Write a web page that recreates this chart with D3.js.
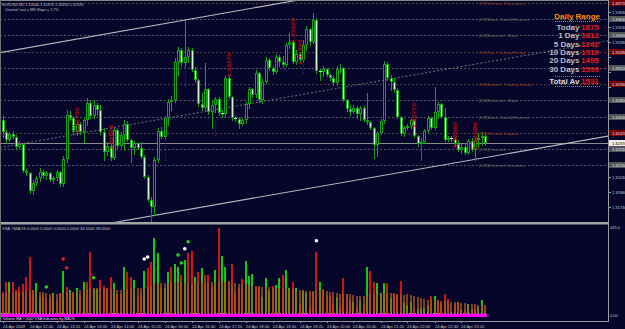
<!DOCTYPE html>
<html><head><meta charset="utf-8">
<script src="https://cdn.jsdelivr.net/npm/d3@7/dist/d3.min.js"></script>
<style>
html,body{margin:0;padding:0;background:#06062b;overflow:hidden}
svg{display:block}
text{font-family:"Liberation Sans",Arial,sans-serif}
</style></head><body>
<svg id="chart" width="625" height="329"></svg>
<script>
// ---------------- DATA ----------------
const headerText = "EURUSD,M5  1.32440 1.32470 1.32350 1.32370";
const channelText = "Channel size = 889  Slope = 2.7%";

const open = [1.3260,1.3248,1.3240,1.3246,1.3243,1.3233,1.3236,1.3209,1.3207,1.3189,
1.3197,1.3202,1.3208,1.3204,1.3207,1.3200,1.3202,1.3208,1.3196,1.3221,
1.3265,1.3262,1.3248,1.3256,1.3248,1.3260,1.3277,1.3264,1.3275,1.3270,
1.3248,1.3228,1.3234,1.3222,1.3250,1.3234,1.3245,1.3256,1.3240,1.3232,
1.3237,1.3232,1.3223,1.3203,1.3180,1.3173,1.3220,1.3249,1.3243,1.3262,
1.3278,1.3280,1.3318,1.3330,1.3317,1.3323,1.3330,1.3310,1.3300,1.3276,
1.3272,1.3291,1.3268,1.3275,1.3281,1.3267,1.3266,1.3302,1.3283,1.3262,
1.3261,1.3256,1.3260,1.3276,1.3291,1.3285,1.3307,1.3280,1.3298,1.3320,
1.3312,1.3308,1.3323,1.3318,1.3315,1.3335,1.3338,1.3318,1.3326,1.3320,
1.3335,1.3351,1.3338,1.3360,1.3309,1.3308,1.3311,1.3305,1.3302,1.3297,
1.3311,1.3312,1.3280,1.3271,1.3268,1.3272,1.3266,1.3272,1.3260,1.3258,
1.3252,1.3235,1.3247,1.3259,1.3316,1.3302,1.3298,1.3290,1.3263,1.3246,
1.3252,1.3254,1.3260,1.3244,1.3236,1.3238,1.3249,1.3262,1.3252,1.3268,
1.3276,1.3263,1.3240,1.3242,1.3241,1.3236,1.3230,1.3233,1.3227,1.3239,
1.3230,1.3240,1.3242,1.3244];

const high = [1.3265,1.3250,1.3248,1.3249,1.3245,1.3239,1.3237,1.3211,1.3208,1.3200,
1.3204,1.3212,1.3210,1.3209,1.3208,1.3204,1.3210,1.3209,1.3224,1.3270,
1.3269,1.3264,1.3258,1.3258,1.3262,1.3282,1.3280,1.3280,1.3277,1.3275,
1.3252,1.3238,1.3237,1.3252,1.3252,1.3248,1.3260,1.3259,1.3241,1.3239,
1.3238,1.3238,1.3225,1.3205,1.3183,1.3223,1.3252,1.3253,1.3264,1.3281,
1.3284,1.3322,1.3333,1.3332,1.3360,1.3333,1.3332,1.3313,1.3301,1.3287,
1.3317,1.3292,1.3280,1.3283,1.3283,1.3270,1.3304,1.3305,1.3284,1.3264,
1.3263,1.3262,1.3278,1.3293,1.3292,1.3310,1.3308,1.3301,1.3323,1.3322,
1.3314,1.3326,1.3325,1.3324,1.3337,1.3347,1.3340,1.3330,1.3327,1.3340,
1.3354,1.3352,1.3367,1.3362,1.3311,1.3314,1.3312,1.3306,1.3304,1.3314,
1.3316,1.3313,1.3281,1.3275,1.3275,1.3274,1.3274,1.3274,1.3287,1.3259,
1.3253,1.3249,1.3261,1.3319,1.3318,1.3305,1.3302,1.3292,1.3264,1.3254,
1.3256,1.3262,1.3261,1.3245,1.3242,1.3251,1.3264,1.3263,1.3293,1.3278,
1.3277,1.3272,1.3244,1.3244,1.3243,1.3240,1.3236,1.3237,1.3241,1.3242,
1.3243,1.3247,1.3248,1.3247];

const low = [1.3243,1.3237,1.3239,1.3242,1.3231,1.3232,1.3208,1.3205,1.3187,1.3186,
1.3195,1.3199,1.3202,1.3201,1.3199,1.3197,1.3200,1.3194,1.3194,1.3218,
1.3260,1.3246,1.3245,1.3246,1.3238,1.3255,1.3262,1.3262,1.3266,1.3246,
1.3220,1.3225,1.3220,1.3221,1.3232,1.3233,1.3230,1.3239,1.3218,1.3226,
1.3231,1.3222,1.3202,1.3179,1.3159,1.3165,1.3218,1.3242,1.3242,1.3255,
1.3270,1.3278,1.3305,1.3315,1.3312,1.3318,1.3309,1.3298,1.3274,1.3270,
1.3270,1.3266,1.3252,1.3268,1.3265,1.3263,1.3264,1.3282,1.3260,1.3259,
1.3252,1.3255,1.3257,1.3272,1.3283,1.3283,1.3278,1.3277,1.3297,1.3310,
1.3306,1.3307,1.3314,1.3313,1.3314,1.3332,1.3317,1.3316,1.3318,1.3319,
1.3330,1.3335,1.3337,1.3307,1.3300,1.3304,1.3304,1.3300,1.3295,1.3295,
1.3307,1.3279,1.3269,1.3265,1.3267,1.3262,1.3260,1.3259,1.3256,1.3251,
1.3222,1.3224,1.3246,1.3257,1.3300,1.3290,1.3288,1.3262,1.3245,1.3244,
1.3251,1.3252,1.3243,1.3234,1.3220,1.3237,1.3247,1.3251,1.3251,1.3262,
1.3262,1.3239,1.3239,1.3239,1.3234,1.3229,1.3227,1.3226,1.3226,1.3229,
1.3220,1.3233,1.3235,1.3235];

const close = [1.3248,1.3240,1.3246,1.3243,1.3233,1.3236,1.3209,1.3207,1.3189,1.3197,
1.3202,1.3208,1.3204,1.3207,1.3200,1.3202,1.3208,1.3196,1.3221,1.3265,
1.3262,1.3248,1.3256,1.3248,1.3260,1.3277,1.3264,1.3275,1.3270,1.3248,
1.3228,1.3234,1.3222,1.3250,1.3234,1.3245,1.3256,1.3240,1.3232,1.3237,
1.3232,1.3223,1.3203,1.3180,1.3173,1.3220,1.3249,1.3243,1.3262,1.3278,
1.3280,1.3318,1.3330,1.3317,1.3323,1.3330,1.3310,1.3300,1.3276,1.3272,
1.3291,1.3268,1.3275,1.3281,1.3267,1.3266,1.3302,1.3283,1.3262,1.3261,
1.3256,1.3260,1.3276,1.3291,1.3285,1.3307,1.3280,1.3298,1.3320,1.3312,
1.3308,1.3323,1.3318,1.3315,1.3335,1.3338,1.3318,1.3326,1.3320,1.3335,
1.3351,1.3338,1.3360,1.3309,1.3308,1.3311,1.3305,1.3302,1.3297,1.3311,
1.3312,1.3280,1.3271,1.3268,1.3272,1.3266,1.3272,1.3260,1.3258,1.3252,
1.3235,1.3247,1.3259,1.3316,1.3302,1.3298,1.3290,1.3263,1.3246,1.3252,
1.3254,1.3260,1.3244,1.3236,1.3238,1.3249,1.3262,1.3252,1.3268,1.3276,
1.3263,1.3240,1.3242,1.3241,1.3236,1.3230,1.3233,1.3227,1.3239,1.3230,
1.3240,1.3242,1.3244,1.3237];

const volume = [122,170,170,172,130,147,160,197,297,130,
164,97,105,89,89,114,80,114,227,147,
130,114,139,105,172,172,322,134,135,180,
150,139,197,164,110,110,245,222,194,180,
97,110,227,239,272,389,314,139,142,222,
247,259,247,205,280,314,325,197,222,239,
205,205,147,230,439,300,244,175,259,114,
142,185,275,200,209,147,147,97,189,125,
152,155,189,205,230,139,169,142,59,125,
117,47,122,319,172,135,105,102,64,94,
47,189,110,80,69,47,75,55,245,227,
169,164,117,164,164,89,114,105,177,64,
55,72,35,35,42,39,52,100,102,80,
64,109,85,19,55,69,30,30,59,35,
35,47,80,39];
// g = up volume, r = down volume
const volumeDir = ("rrgrrrrrrr"+"ggrrrgrrgr"+"grgrgrrggr"+"rrrgrrgrrg"+"rrgrrggrgg"+
  "rggrgrrgrg"+"rrrgrggrrr"+"rrgggrrggg"+"rggrggrgrg"+"grrrgrrrrg"+
  "rrrrgrgrgr"+"rgggrgrrrg"+"ggrggggrgr"+"rrrgrrgrgr"+"rggr").split("");
const volumeAvg = [110,115,118,120,118,120,122,125,130,128,125,122,118,115,112,110,108,110,115,118,
120,122,125,128,130,135,140,142,140,138,138,136,135,135,132,130,132,135,138,140,
140,138,140,145,150,158,165,166,165,166,168,170,170,168,166,165,160,165,168,170,
170,170,168,170,175,175,172,170,168,165,162,160,158,155,152,150,148,146,145,144,
142,140,138,136,138,136,134,132,130,128,126,124,125,130,130,128,126,122,118,115,
112,112,110,108,105,102,100,100,104,108,110,112,114,116,116,114,112,110,108,104,
110,105,100,95,90,85,82,80,80,78,76,75,74,72,70,68,66,64,62,60,58,57,56,55];
const vsaBase = 3;
const vsaDots = [
  {bar:13, v:145, kind:"g"}, {bar:18, v:285, kind:"r"}, {bar:19, v:241, kind:"r"},
  {bar:27, v:191, kind:"g"}, {bar:42, v:285, kind:"w"}, {bar:43, v:295, kind:"w"},
  {bar:52, v:305, kind:"g"}, {bar:53, v:265, kind:"g"}, {bar:54, v:336, kind:"w"},
  {bar:55, v:371, kind:"g"}, {bar:93, v:376, kind:"w"}];
const vsaTitle = "VSA ©MAOS 0.0000 0.0000 0.0000 0.0000 34.0000 38.0000";
const vsaFooter = "Volume MA © 2007 VSA Indicators by MAOS";
const volAxisLabels = [445, 0];

const mmPrices = [1.3377,1.3361,1.3345,1.3328,1.3312,1.3296,1.3280,1.3263,1.3247,1.3231,1.3215];
const mmNames = ["[8/8]Ultimate Resistance","[7/8]Weak, Stall & Reverse","[6/8]Reversal - Major",
  "[5/8]Top - Trading Range","","[3/8]Bottom - Trading Range","[2/8]Reversal - Major",
  "[1/8]Weak, Stall & Reverse","[0/8]Ultimate Support","[-1/8]Oversold","[-2/8]Extreme Overshoot"];
const mmKind = ["r","g","g","r","g","r","g","g","r","g","g"];

const channelUpper = [[0,1.33278],[80,1.33754]];
const channelMid   = [[0,1.3233],[143,1.33176]];
const channelLower = [[0,1.3138],[143,1.32224]];
const bidPrice = 1.3237;

const priceTicks = [1.3368,1.3353,1.3338,1.3323,1.3308,1.3293,1.3278,1.3263,1.3248,1.3233,1.3218,1.3203,1.3188,1.3173];

const timeBars = [0,8,16,24,32,40,48,56,64,72,80,88,96,104,112,120,128,136];
const timeLabels = ["24 Apr 2009","24 Apr 12:40","24 Apr 13:20","24 Apr 14:00","24 Apr 14:40","24 Apr 15:20",
  "24 Apr 16:00","24 Apr 16:40","24 Apr 17:20","24 Apr 18:00","24 Apr 18:40","24 Apr 19:20","24 Apr 20:00",
  "24 Apr 20:40","24 Apr 21:20","24 Apr 22:00","24 Apr 22:40","24 Apr 23:20"];

const fractalLabels = [
  {bar:22, top:1.3273, bottom:1.3247}, {bar:32, top:1.3255, bottom:1.3230},
  {bar:67, top:1.3327, bottom:1.3303}, {bar:86, top:1.3362, bottom:1.3337},
  {bar:88, top:1.3340, bottom:1.3315}, {bar:122, top:1.3277, bottom:1.3252},
  {bar:134, top:1.3258, bottom:1.3232}, {bar:140, top:1.3258, bottom:1.3230}];
const fractalDots = [
  {bar:21, top:1.3255, bottom:1.3235}, {bar:44, top:1.3167, bottom:1.3155},
  {bar:48, top:1.3240, bottom:1.3218}, {bar:54, top:1.3312, bottom:1.3292},
  {bar:63, top:1.3260, bottom:1.3242}, {bar:89, top:1.3323, bottom:1.3307},
  {bar:124, top:1.3235, bottom:1.3218}];

const rangeTitle = "Daily Range";
const rangeNames = ["Today","1 Day","5 Days","10 Days","20 Days","30 Days"];
const rangeValues = [1875,1812,1242,1510,1495,1599];
const rangeTotalName = "Total Av";
const rangeTotal = 1531;

// ---------------- DRAWING ----------------
const BG = "#06062b";
const C = {wick:"#18a018", bear:"#c8f8c8", grid:"#55556a", mmR:"#8a3a1c", mmG:"#6c6c52",
  boxR:"#7a0000", boxG:"#545454", axis:"#9a9a9a", txt:"#c4c4c4",
  volUp:"#14c814", volDn:"#d01414", volAvg:"#a85a1c", mag:"#ff00ff"};

const svg = d3.select("#chart");
svg.append("rect").attr("width",625).attr("height",329).attr("fill",BG);
const defs = svg.append("defs");
defs.append("clipPath").attr("id","cm").append("rect").attr("x",0).attr("y",0).attr("width",608).attr("height",222);
defs.append("clipPath").attr("id","cv").append("rect").attr("x",0).attr("y",225).attr("width",608).attr("height",95);

const x = d3.scaleLinear().domain([0,180]).range([2.5,610]);
const y = d3.scaleLinear().domain([1.3158,1.3380]).range([222,0]);
const yv = d3.scaleLinear().domain([0,445]).range([316,227]);

const main = svg.append("g").attr("clip-path","url(#cm)");

// Murrey math levels
mmPrices.forEach((p,k)=>{
  const yy = Math.round(y(p))+0.5;
  main.append("line").attr("x1",0).attr("x2",608).attr("y1",yy).attr("y2",yy)
    .attr("stroke", mmKind[k]==="r" ? "#5a4040" : C.grid).attr("stroke-width",1).attr("stroke-dasharray","2,2");
});

// bid line
main.append("line").attr("x1",0).attr("x2",608).attr("y1",Math.round(y(bidPrice))+0.5).attr("y2",Math.round(y(bidPrice))+0.5)
  .attr("stroke","#8c8c8c").attr("stroke-width",1);

// channel
function ray(pts, dash, col){
  const s = d3.scaleLinear().domain([pts[0][0],pts[1][0]]).range([pts[0][1],pts[1][1]]);
  const ln = main.append("line").attr("x1",x(-2)).attr("y1",y(s(-2))).attr("x2",x(180)).attr("y2",y(s(180)))
    .attr("stroke",col).attr("stroke-width",1.1);
  if(dash) ln.attr("stroke-dasharray",dash);
}
ray(channelMid,"2,2","#6a6a6a");
ray(channelUpper,null,"#b8b8b8");
ray(channelLower,null,"#b8b8b8");

// candles
const cg = main.append("g").attr("shape-rendering","crispEdges");
close.forEach((c,i)=>{
  const o = open[i], cx = Math.round(x(i));
  cg.append("line").attr("x1",cx+0.5).attr("x2",cx+0.5).attr("y1",Math.round(y(high[i]))).attr("y2",Math.round(y(low[i]))+1)
    .attr("stroke",C.wick).attr("stroke-width",1);
  const t = Math.round(y(Math.max(o,c))), b = Math.round(y(Math.min(o,c)));
  if (b - t >= 2) {
    cg.append("rect").attr("x",cx-0.5).attr("y",t+0.5).attr("width",2).attr("height",b-t-1)
      .attr("fill", c<o ? C.bear : BG).attr("stroke",C.wick).attr("stroke-width",1);
  } else {
    cg.append("line").attr("x1",cx-1).attr("x2",cx+2).attr("y1",t+0.5).attr("y2",t+0.5)
      .attr("stroke", c<o ? C.bear : C.wick).attr("stroke-width",1);
  }
});

// fractal markers
fractalDots.forEach(d=>{
  main.append("line").attr("x1",Math.round(x(d.bar))+0.5).attr("x2",Math.round(x(d.bar))+0.5)
    .attr("y1",y(d.top)).attr("y2",y(d.bottom)).attr("stroke","#2020ee").attr("stroke-width",1.2).attr("stroke-dasharray","1,1.5");
});
fractalLabels.forEach(d=>{
  const px = Math.round(x(d.bar))+2, yb = y(d.bottom), h = y(d.bottom)-y(d.top);
  main.append("text").attr("transform",`translate(${px},${yb}) rotate(-90)`)
    .attr("font-size",4.6).attr("font-weight","bold").attr("fill","#b80a0a")
    .attr("textLength",h).attr("lengthAdjust","spacingAndGlyphs").text(d.top.toFixed(5));
});

// MM labels
mmPrices.forEach((p,k)=>{
  if(!mmNames[k]) return;
  main.append("text").attr("x",479).attr("y",y(p)+1.6).attr("font-size",4.2)
    .attr("fill", mmKind[k]==="r" ? C.mmR : C.mmG).text(mmNames[k]);
});

// header texts
svg.append("text").attr("x",2).attr("y",6).attr("font-size",3.8).attr("fill",C.txt).text(headerText);
svg.append("text").attr("x",5).attr("y",10.5).attr("font-size",3.6).attr("fill",C.txt).text(channelText);

// frame lines
svg.append("line").attr("x1",0).attr("x2",608).attr("y1",0.5).attr("y2",0.5).attr("stroke","#8a8a8a");
svg.append("rect").attr("x",0).attr("y",222).attr("width",609).attr("height",2.5).attr("fill","#a4a4a4");
svg.append("line").attr("x1",0.5).attr("x2",0.5).attr("y1",0).attr("y2",321).attr("stroke","#707070");
svg.append("line").attr("x1",608.5).attr("x2",608.5).attr("y1",0).attr("y2",322).attr("stroke",C.axis);
svg.append("line").attr("x1",0).attr("x2",609).attr("y1",321.5).attr("y2",321.5).attr("stroke",C.axis);

// price axis (ticks that would sit under a level box are skipped)
const ax = svg.append("g");
const boxYs = mmPrices.map(p=>y(p)).concat([y(bidPrice)]);
priceTicks.forEach(p=>{
  const yy = Math.round(y(p))+0.5;
  ax.append("line").attr("x1",608).attr("x2",611).attr("y1",yy).attr("y2",yy).attr("stroke",C.axis);
  if (boxYs.some(b=>Math.abs(b-yy)<6.5)) return;
  ax.append("text").attr("x",612).attr("y",yy+1.5).attr("font-size",4).attr("fill",C.txt).text(p.toFixed(5));
});
mmPrices.forEach((p,k)=>{
  const yy = y(p);
  ax.append("rect").attr("x",609).attr("y",yy-3).attr("width",16).attr("height",6)
    .attr("fill", mmKind[k]==="r" ? C.boxR : C.boxG);
  ax.append("text").attr("x",612).attr("y",yy+1.5).attr("font-size",4).attr("fill","#e8e8e8").text(p.toFixed(5));
});
ax.append("rect").attr("x",609).attr("y",y(bidPrice)-3).attr("width",16).attr("height",6).attr("fill","#ececec");
ax.append("text").attr("x",612).attr("y",y(bidPrice)+1.5).attr("font-size",4).attr("fill","#000").text(bidPrice.toFixed(5));

// daily range panel
const dr = svg.append("g").attr("font-weight","bold").attr("font-size",8);
dr.append("text").attr("x",600).attr("y",19).attr("text-anchor","end").attr("fill","#ff8c00").text(rangeTitle);
[21.5,76.5,86.5].forEach(yy=>dr.append("line").attr("x1",555).attr("x2",601).attr("y1",yy).attr("y2",yy)
  .attr("stroke","#a0a0a0").attr("stroke-width",0.8).attr("stroke-dasharray","1,1"));
rangeNames.forEach((n,k)=>{
  const yy = 30 + k*8.35;
  dr.append("text").attr("x",579.5).attr("y",yy).attr("text-anchor","end").attr("fill","#bdbdbd").text(n);
  dr.append("text").attr("x",581).attr("y",yy).attr("fill","#ff1010").text(rangeValues[k]);
});
dr.append("text").attr("x",579.5).attr("y",84).attr("text-anchor","end").attr("fill","#d8d8d8").text(rangeTotalName);
dr.append("text").attr("x",581).attr("y",84).attr("fill","#ff1010").text(rangeTotal);

// volume panel
const vg = svg.append("g").attr("clip-path","url(#cv)").attr("shape-rendering","crispEdges");
volume.forEach((v,i)=>{
  const cx = Math.round(x(i))-1;
  vg.append("rect").attr("x",cx).attr("y",yv(v)).attr("width",2).attr("height",yv(0)-yv(v))
    .attr("fill", volumeDir[i]==="g" ? C.volUp : C.volDn);
});
volumeAvg.forEach((v,i)=>{
  const cx = Math.round(x(i))-1;
  vg.append("rect").attr("x",cx).attr("y",yv(v)).attr("width",2).attr("height",yv(0)-yv(v))
    .attr("fill", C.volAvg).attr("opacity",0.72);
});
vg.append("line").attr("x1",x(0)-2).attr("x2",x(143)+2).attr("y1",yv(vsaBase)).attr("y2",yv(vsaBase))
  .attr("stroke",C.mag).attr("stroke-width",2.2);
vg.append("line").attr("x1",x(0)-2).attr("x2",x(143)+2).attr("y1",yv(vsaBase)-2).attr("y2",yv(vsaBase)-2)
  .attr("stroke","#ff66ff").attr("stroke-width",1).attr("stroke-dasharray","1,2");
const dotCol = {g:"#22d022", r:"#e81c1c", w:"#ffffff"};
vsaDots.forEach(d=>{
  svg.append("circle").attr("cx",x(d.bar)).attr("cy",yv(d.v)).attr("r",1.8).attr("fill",dotCol[d.kind]);
});
svg.append("text").attr("x",2).attr("y",230).attr("font-size",4).attr("fill",C.txt).text(vsaTitle);
svg.append("text").attr("x",3).attr("y",319.5).attr("font-size",3.6).attr("fill","#f0c0f0").text(vsaFooter);
svg.append("text").attr("x",610).attr("y",yv(volAxisLabels[0])+1.5).attr("font-size",4).attr("fill",C.txt).text(volAxisLabels[0].toFixed(1));
svg.append("text").attr("x",610).attr("y",yv(volAxisLabels[1])+1).attr("font-size",4).attr("fill",C.txt).text(volAxisLabels[1].toFixed(2));

// time axis
timeBars.forEach((b,k)=>{
  const xx = Math.round(x(b))+0.5;
  svg.append("line").attr("x1",xx).attr("x2",xx).attr("y1",321).attr("y2",323).attr("stroke",C.axis);
  svg.append("text").attr("x",xx-0.5).attr("y",327.5).attr("font-size",4.1).attr("fill",C.txt).text(timeLabels[k]);
});
</script>
</body></html>
